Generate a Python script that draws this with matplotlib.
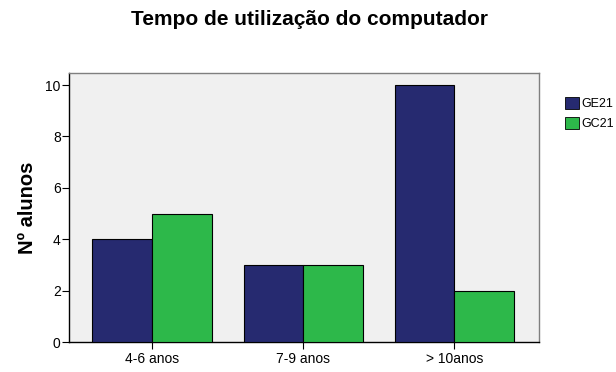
import numpy as np
import matplotlib
matplotlib.use("Agg")
import matplotlib.pyplot as plt
from matplotlib.patches import Patch

plt.rcParams['font.family'] = ['Liberation Sans', 'DejaVu Sans']

categories = ['4-6 anos', '7-9 anos', '> 10anos']
ge21 = [4, 3, 10]
gc21 = [5, 3, 2]
series_names = ['GE21', 'GC21']
colors = ['#262a70', '#2db84a']

fig = plt.figure(figsize=(6.16, 3.72), dpi=100)
ax = fig.add_axes([0.112, 0.080, 0.763, 0.724])
ax.set_facecolor('#f0f0f0')

x = np.arange(len(categories))
w = 0.395
ax.bar(x - w / 2, ge21, w, color=colors[0], edgecolor='black', linewidth=0.8, zorder=3)
ax.bar(x + w / 2, gc21, w, color=colors[1], edgecolor='black', linewidth=0.8, zorder=3)

ax.set_xlim(-0.55, 2.56)
ax.set_ylim(0, 10.47)
ax.set_yticks([0, 2, 4, 6, 8, 10])
ax.set_xticks(x)
ax.set_xticklabels(categories)
ax.tick_params(axis='both', labelsize=10, length=5, width=0.8, direction='out')
ax.tick_params(axis='x', pad=2)
ax.tick_params(axis='y', pad=1)

ax.spines['left'].set_linewidth(1.0)
ax.spines['bottom'].set_linewidth(1.0)
for s in ('top', 'right'):
    ax.spines[s].set_color('#7f7f7f')
    ax.spines[s].set_linewidth(1.0)

ax.set_ylabel('Nº alunos', fontsize=14.5, fontweight='bold', labelpad=6)
fig.text(0.503, 0.948, 'Tempo de utilização do computador', ha='center', va='center',
         fontsize=15, fontweight='bold')

handles = [Patch(facecolor=c, edgecolor='black', linewidth=0.6, label=n)
           for c, n in zip(colors, series_names)]
fig.legend(handles=handles, loc='upper left', bbox_to_anchor=(0.917, 0.740), frameon=False,
           fontsize=9, handlelength=1.1, handleheight=1.15, handletextpad=0.2,
           labelspacing=0.55, borderaxespad=0, borderpad=0)

fig.savefig('out.png', dpi=100)
